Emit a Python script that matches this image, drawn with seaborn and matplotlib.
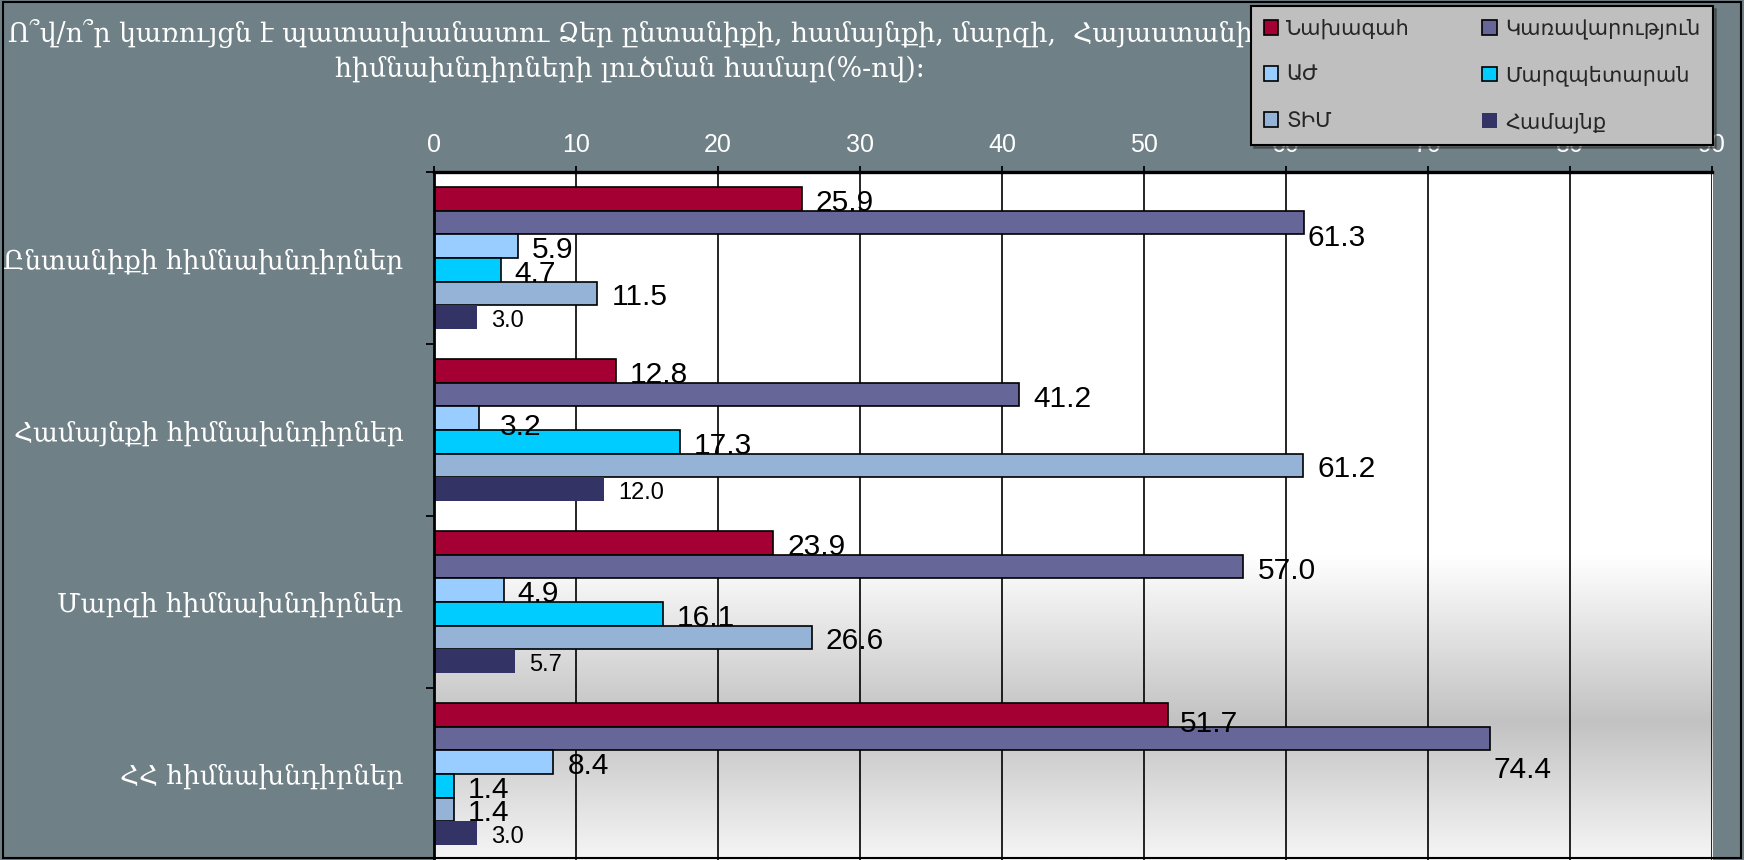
import numpy as np
import pandas as pd
import matplotlib
matplotlib.use("Agg")
import matplotlib.pyplot as plt
import seaborn as sns
from matplotlib.colors import LinearSegmentedColormap
from matplotlib.patches import Patch, Rectangle

# ---------------- data ----------------
categories = ["Ընտանիքի հիմնախնդիրներ", "Համայնքի հիմնախնդիրներ",
              "Մարզի հիմնախնդիրներ", "ՀՀ հիմնախնդիրներ"]
series = ["Նախագահ", "Կառավարություն", "ԱԺ", "Մարզպետարան", "ՏԻՄ", "Համայնք"]
president = [25.9, 12.8, 23.9, 51.7]
government = [61.3, 41.2, 57.0, 74.4]
parliament = [5.9, 3.2, 4.9, 8.4]
regional_admin = [4.7, 17.3, 16.1, 1.4]
local_gov = [11.5, 61.2, 26.6, 1.4]
community = [3.0, 12.0, 5.7, 3.0]
x_ticks = [0, 10, 20, 30, 40, 50, 60, 70, 80, 90]
title_line1 = "Ո՞վ/ո՞ր կառույցն է պատասխանատու Ձեր ընտանիքի, համայնքի, մարզի,  Հայաստանի"
title_line2 = "հիմնախնդիրների լուծման համար(%-ով):"

colors = ["#A50034", "#666699", "#99CCFF", "#00CCFF", "#95B3D7", "#333366"]

values = [president, government, parliament, regional_admin, local_gov, community]
df = pd.DataFrame({
    "category": np.tile(categories, len(series)),
    "series": np.repeat(series, len(categories)),
    "value": np.concatenate(values),
})

# ---------------- style ----------------
sns.set_theme(style="white")
plt.rcParams["font.family"] = ["Liberation Sans", "DejaVu Sans"]
arm_serif = ["DejaVu Serif", "DejaVu Sans"]
arm_sans = ["DejaVu Sans"]

W, H = 1744, 860
fig = plt.figure(figsize=(W / 100, H / 100), dpi=100)
fig.patch.set_facecolor("#6F8086")

pos = [434 / W, 0.0, 1278 / W, 688 / H]

# gradient plot background
bg = fig.add_axes(pos, zorder=0)
cmap = LinearSegmentedColormap.from_list(
    "bgc", [(0.0, "#FFFFFF"), (0.56, "#FFFFFF"), (0.80, "#C2C2C2"), (1.0, "#F6F6F6")])
grad = np.linspace(0, 1, 256).reshape(-1, 1)
bg.imshow(grad, aspect="auto", cmap=cmap, extent=[0, 1, 0, 1], vmin=0, vmax=1)
bg.axis("off")

ax = fig.add_axes(pos, zorder=1)
ax.set_facecolor("none")

sns.barplot(data=df, y="category", x="value", hue="series", order=categories,
            hue_order=series, palette=colors, orient="h", width=0.82,
            saturation=1, errorbar=None, legend=False, ax=ax,
            edgecolor="black", linewidth=1.2)

for i, cont in enumerate(ax.containers):
    if i == len(series) - 1:
        for b in cont:
            b.set_linewidth(0)

# value labels
special = {(1, 0): (3, -15), (1, 3): (3, -31), (2, 1): (20, -9), (0, 3): (12, -9)}
for i, cont in enumerate(ax.containers):
    for j, b in enumerate(cont):
        v = values[i][j]
        w = b.get_width()
        yc = b.get_y() + b.get_height() / 2
        dx, dy = special.get((i, j), (14, -4))
        ax.annotate(f"{v:.1f}", (w, yc), xytext=(dx, dy), textcoords="offset pixels",
                    ha="left", va="center", fontsize=17 if i == 5 else 21.5,
                    color="black", zorder=5)

ax.set_xlim(0, 90)
ax.set_ylim(3.5, -0.5)
ax.set_xlabel("")
ax.set_ylabel("")

ax.xaxis.tick_top()
ax.set_xticks(x_ticks)
ax.set_xticklabels([str(t) for t in x_ticks])
ax.tick_params(axis="x", which="major", top=True, bottom=False, labeltop=True,
               labelbottom=False, direction="out", length=4.5, width=1.3,
               color="black", labelcolor="white", labelsize=18, pad=6)
ax.grid(axis="x", color="black", linewidth=1.2)
ax.grid(axis="y", visible=False)
ax.set_axisbelow(True)

ax.set_yticks(range(len(categories)))
ax.set_yticklabels(categories, family=arm_serif, fontsize=19, color="white")
ax.tick_params(axis="y", which="major", left=True, length=0, pad=22)
ax.set_yticks([-0.5, 0.5, 1.5, 2.5], minor=True)
ax.tick_params(axis="y", which="minor", left=True, direction="out", length=5.5,
               width=1.3, color="black")

for s in ["right", "bottom"]:
    ax.spines[s].set_visible(False)
ax.spines["top"].set_color("black")
ax.spines["top"].set_linewidth(2.4)
ax.spines["left"].set_color("black")
ax.spines["left"].set_linewidth(2.0)

# title
fig.text(630 / W, 1 - 33 / H, title_line1, ha="center", va="center",
         color="white", fontsize=19.3, family=arm_serif)
fig.text(630 / W, 1 - 69 / H, title_line2, ha="center", va="center",
         color="white", fontsize=19.3, family=arm_serif)

# legend (filled row by row in reference -> reorder for column-major)
handles = [Patch(facecolor=c, edgecolor=("none" if k == 5 else "black"), linewidth=1.2)
           for k, c in enumerate(colors)]
order = [0, 2, 4, 1, 3, 5]
leg = fig.legend([handles[k] for k in order], [series[k] for k in order],
                 loc="upper left", bbox_to_anchor=(1251 / W, 1 - 142 / H, 462 / W, 136 / H),
                 mode="expand", ncol=2, frameon=True, fancybox=False, shadow=True,
                 facecolor="#BFBFBF", edgecolor="black", framealpha=1,
                 prop={"family": arm_sans, "size": 15}, handlelength=0.7,
                 handleheight=0.7, handletextpad=0.4, labelspacing=1.25,
                 borderaxespad=0, borderpad=0.6, columnspacing=1.0)
leg.get_frame().set_linewidth(1.5)

# figure frame
fig.patches.append(Rectangle((0.0015, 0.002), 0.997, 0.996, transform=fig.transFigure,
                             fill=False, edgecolor="black", linewidth=1.5, zorder=10))

fig.savefig("out.png", dpi=100, facecolor=fig.get_facecolor())
